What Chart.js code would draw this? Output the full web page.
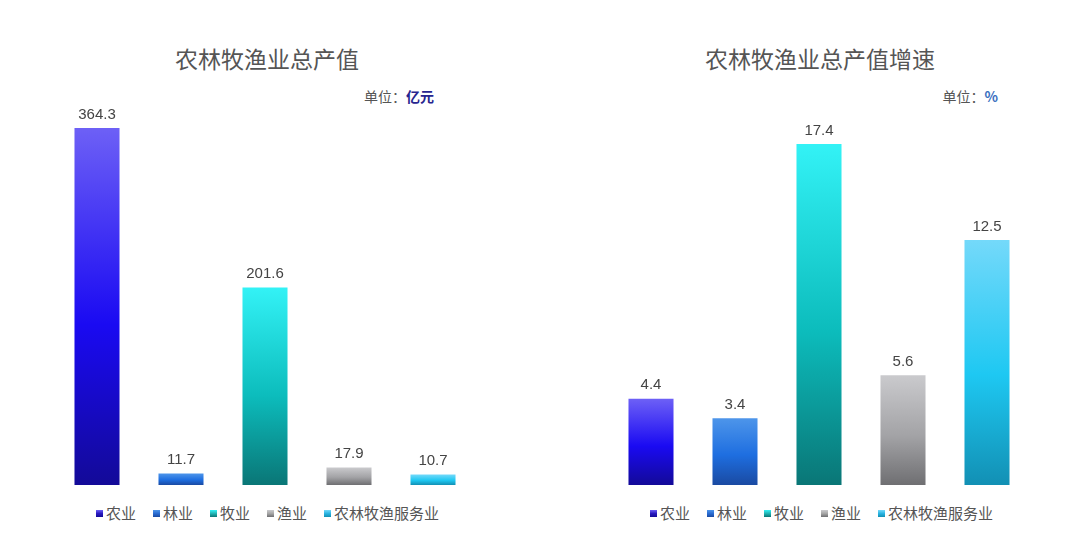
<!DOCTYPE html>
<html>
<head>
<meta charset="utf-8">
<script src="https://cdn.jsdelivr.net/npm/chart.js@4.4.0/dist/chart.umd.min.js"></script>
<style>
  html, body { margin: 0; padding: 0; background: #fff; }
  body { width: 1080px; height: 558px; position: relative; overflow: hidden;
         font-family: "Noto Sans CJK SC", "Noto Sans", sans-serif; }
  .title { position: absolute; top: 42px; width: 400px; text-align: center;
           font-size: 23px; color: #555; line-height: 32px; }
  .unit { position: absolute; top: 87px; font-size: 14px; color: #555; text-align: right; width: 200px; line-height: 19px; }
  .unit b { font-weight: bold; }
  .box { position: absolute; top: 93px; width: 420px; height: 392px; }
  .legend { position: absolute; top: 502px; display: flex; font-size: 15px; color: #555; line-height: 22px; }
  .legend span.item { display: flex; align-items: center; margin-right: 17px; }
  .legend i { display: inline-block; width: 7px; height: 7px; margin-right: 3px; }
</style>
</head>
<body>
  <div class="title" style="left:67px">农林牧渔业总产值</div>
  <div class="unit" style="left:234px">单位：<b style="color:#27258f">亿元</b></div>
  <div class="box" style="left:55px"><canvas id="c1"></canvas></div>
  <div class="legend" id="lg1" style="left:96px"></div>

  <div class="title" style="left:620px">农林牧渔业总产值增速</div>
  <div class="unit" style="left:798px">单位：<b style="color:#3b6fc0">%</b></div>
  <div class="box" style="left:609px"><canvas id="c2"></canvas></div>
  <div class="legend" id="lg2" style="left:650px"></div>

<script>
const categories = ['农业', '林业', '牧业', '渔业', '农林牧渔服务业'];
const outputValues = [364.3, 11.7, 201.6, 17.9, 10.7];   // 亿元
const growthValues = [4.4, 3.4, 17.4, 5.6, 12.5];        // %

// gradient stops per category: top, middle, bottom
const barColors = [
    ['#6d60f6', '#1a0af2', '#130a98'],
    ['#4d95ea', '#1e6ee0', '#1a4aa2'],
    ['#33f2f6', '#0cbcbc', '#0a7676'],
    ['#cacacd', '#a3a3a6', '#6f6f72'],
    ['#74d9fa', '#1ec8f2', '#1290b4']
];
const legendColors = ['#2a1ac0', '#2a6cd2', '#22b4b4', '#a6a6a6', '#2ab4e2'];

function barGradient(context) {
    const chart = context.chart;
    const c = barColors[context.dataIndex];
    const yScale = chart.scales.y;
    if (!chart.chartArea || !yScale || !context.parsed) return c[1];
    const top = yScale.getPixelForValue(context.parsed.y);
    const bottom = yScale.getPixelForValue(0);
    if (!isFinite(top) || !isFinite(bottom) || top === bottom) return c[1];
    const g = chart.ctx.createLinearGradient(0, top, 0, bottom);
    g.addColorStop(0, c[0]);
    g.addColorStop(0.55, c[1]);
    g.addColorStop(1, c[2]);
    return g;
}

const valueLabels = {
    id: 'valueLabels',
    afterDatasetsDraw(chart) {
        const ctx = chart.ctx;
        const meta = chart.getDatasetMeta(0);
        ctx.save();
        ctx.font = '15px "Liberation Sans", Arial, sans-serif';
        ctx.fillStyle = '#444';
        ctx.textAlign = 'center';
        ctx.textBaseline = 'bottom';
        meta.data.forEach(function (bar, i) {
            ctx.fillText(chart.data.datasets[0].data[i].toFixed(1), bar.x, bar.y - 6);
        });
        ctx.restore();
    }
};

function makeChart(id, values, yMax) {
    return new Chart(document.getElementById(id), {
        type: 'bar',
        data: {
            labels: categories,
            datasets: [{
                data: values,
                backgroundColor: barGradient,
                borderWidth: 0,
                categoryPercentage: 1,
                barPercentage: 0.536
            }]
        },
        options: {
            responsive: true,
            maintainAspectRatio: false,
            animation: false,
            layout: { padding: 0 },
            scales: {
                x: { display: false },
                y: { display: false, min: 0, max: yMax }
            },
            plugins: {
                legend: { display: false },
                tooltip: { enabled: false }
            }
        },
        plugins: [valueLabels]
    });
}

function makeLegend(id) {
    const el = document.getElementById(id);
    categories.forEach(function (name, i) {
        const item = document.createElement('span');
        item.className = 'item';
        const mark = document.createElement('i');
        mark.style.background = 'linear-gradient(' + barColors[i][0] + ',' + legendColors[i] + ',' + barColors[i][2] + ')';
        item.appendChild(mark);
        item.appendChild(document.createTextNode(name));
        el.appendChild(item);
    });
}

makeLegend('lg1');
makeLegend('lg2');
makeChart('c1', outputValues, 400);
makeChart('c2', growthValues, 20);
</script>
</body>
</html>
